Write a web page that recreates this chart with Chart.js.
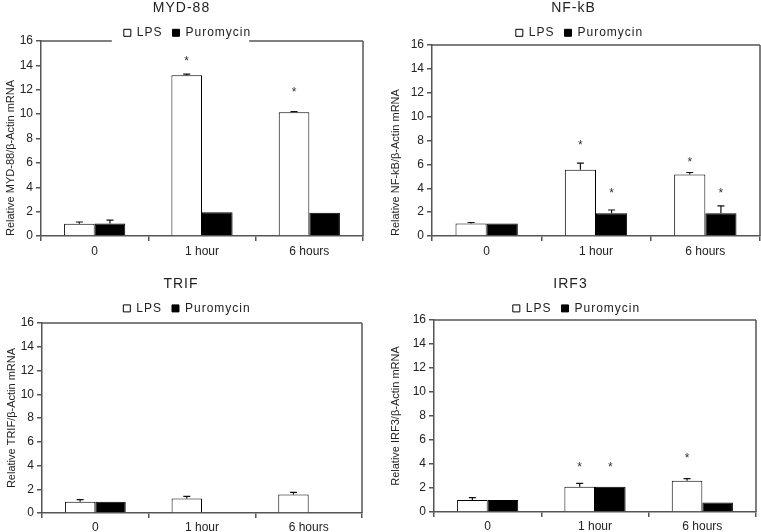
<!DOCTYPE html>
<html><head><meta charset="utf-8">
<script src="https://cdn.jsdelivr.net/npm/chart.js@4.4.1/dist/chart.umd.min.js"></script>
<style>
html,body{margin:0;padding:0;background:#fff;}
#wrap{position:relative;width:761px;height:532px;overflow:hidden;background:#fff;}
canvas{position:absolute;}
</style></head><body>
<div id="wrap">
<canvas id="c1" width="380" height="266" style="left:0;top:0"></canvas>
<canvas id="c2" width="381" height="266" style="left:380px;top:0"></canvas>
<canvas id="c3" width="380" height="266" style="left:0;top:266px"></canvas>
<canvas id="c4" width="381" height="266" style="left:380px;top:266px"></canvas>
</div>
<script>
// ---- data ----
const categories = ['0', '1 hour', '6 hours'];
const seriesNames = ['LPS', 'Puromycin'];
const yMin = 0, yMax = 16, yStep = 2;

const myd88Lps = [1.0, 13.2, 10.15];
const myd88LpsErr = [0.15, 0.08, 0.06];
const myd88Puro = [1.03, 1.95, 1.9];
const myd88PuroErr = [0.27, 0, 0];
const myd88LpsStar = [null, 14.6, 12.0];
const myd88PuroStar = [null, null, null];

const nfkbLps = [1.05, 5.55, 5.15];
const nfkbLpsErr = [0.08, 0.55, 0.17];
const nfkbPuro = [1.05, 1.9, 1.9];
const nfkbPuroErr = [0, 0.28, 0.62];
const nfkbLpsStar = [null, 7.85, 6.45];
const nfkbPuroStar = [null, 3.8, 3.8];

const trifLps = [0.95, 1.23, 1.56];
const trifLpsErr = [0.17, 0.17, 0.17];
const trifPuro = [0.95, null, null];
const trifPuroErr = [0, 0, 0];
const trifLpsStar = [null, null, null];
const trifPuroStar = [null, null, null];

const irf3Lps = [1.0, 2.1, 2.6];
const irf3LpsErr = [0.19, 0.28, 0.18];
const irf3Puro = [1.0, 2.1, 0.8];
const irf3PuroErr = [0, 0, 0];
const irf3LpsStar = [null, 3.97, 4.69];
const irf3PuroStar = [null, 3.97, null];

const titles = ['MYD-88', 'NF-kB', 'TRIF', 'IRF3'];
const yTitles = ['Relative MYD-88/\u03B2-Actin mRNA', 'Relative NF-kB/\u03B2-Actin mRNA',
                 'Relative TRIF/\u03B2-Actin mRNA', 'Relative IRF3/\u03B2-Actin mRNA'];

// ---- styling ----
const FONT = "'Liberation Sans', Arial, Helvetica, sans-serif";
Chart.defaults.font.family = FONT;
Chart.defaults.color = '#333';
const AXIS = '#555';

const errorStarPlugin = {
  id: 'errorStars',
  afterDatasetsDraw(chart) {
    const ctx = chart.ctx, y = chart.scales.y;
    chart.data.datasets.forEach((ds, i) => {
      const meta = chart.getDatasetMeta(i);
      meta.data.forEach((bar, j) => {
        const v = ds.data[j];
        if (v == null) return;
        const e = ds.errors ? ds.errors[j] : 0;
        if (e) {
          const yv = y.getPixelForValue(v), yt = y.getPixelForValue(v + e);
          ctx.save();
          ctx.strokeStyle = '#111'; ctx.lineWidth = 1.2;
          ctx.beginPath();
          ctx.moveTo(bar.x, yv); ctx.lineTo(bar.x, yt);
          ctx.moveTo(bar.x - 3.5, yt); ctx.lineTo(bar.x + 3.5, yt);
          ctx.stroke(); ctx.restore();
        }
        const s = ds.stars ? ds.stars[j] : null;
        if (s != null) {
          ctx.save();
          ctx.fillStyle = '#333';
          ctx.font = '12px ' + FONT;
          ctx.textAlign = 'center'; ctx.textBaseline = 'alphabetic';
          ctx.fillText('*', bar.x, y.getPixelForValue(s) + 6.5);
          ctx.restore();
        }
      });
    });
  }
};

const framePlugin = {
  id: 'frame',
  afterDraw(chart, args, opts) {
    const {left, right, top, bottom} = chart.chartArea;
    const ctx = chart.ctx;
    ctx.save();
    ctx.strokeStyle = AXIS; ctx.lineWidth = 1.5;
    ctx.beginPath();
    if (opts.gap && chart.legend && chart.legend.legendHitBoxes.length) {
      const hb = chart.legend.legendHitBoxes;
      const gl = Math.min(...hb.map(h => h.left)) - 12;
      const gr = Math.max(...hb.map(h => h.left + h.width)) + 10;
      ctx.moveTo(left, top); ctx.lineTo(gl, top);
      ctx.moveTo(gr, top); ctx.lineTo(right, top);
    } else {
      ctx.moveTo(left, top); ctx.lineTo(right, top);
    }
    ctx.moveTo(right, top); ctx.lineTo(right, bottom);
    ctx.stroke();
    ctx.restore();
  }
};

function makeChart(id, p) {
  const chart = new Chart(document.getElementById(id), {
    type: 'bar',
    data: {
      labels: categories,
      datasets: [
        { label: seriesNames[0], data: p.lps, errors: p.lpsErr, stars: p.lpsStar,
          backgroundColor: '#ffffff', borderColor: '#000', borderWidth: 1 },
        { label: seriesNames[1], data: p.puro, errors: p.puroErr, stars: p.puroStar,
          backgroundColor: '#000000', borderColor: '#000', borderWidth: 1 }
      ]
    },
    options: {
      responsive: false, animation: false, devicePixelRatio: 1,
      categoryPercentage: 0.57, barPercentage: 1.0,
      layout: { padding: { left: p.padL, right: p.padR, top: 0, bottom: 0 } },
      plugins: {
        tooltip: { enabled: false },
        title: { display: true, text: p.title, color: '#222',
                 font: { size: 14, family: FONT, weight: 'normal' },
                 padding: { top: p.titleTop, bottom: 0 } },
        legend: { display: true, position: 'top', maxHeight: p.legendH,
                  labels: { boxWidth: 7, boxHeight: 7, padding: 10, color: '#222',
                            font: { size: 12, family: FONT } } },
        frame: { gap: p.gap }
      },
      scales: {
        x: {
          afterFit: s => { s.height = p.xH; },
          grid: { display: true, drawOnChartArea: false, offset: true, tickLength: 5,
                  color: AXIS, lineWidth: 1.5 },
          border: { display: true, color: AXIS, width: 1.5 },
          ticks: { padding: p.xPad, color: '#222', font: { size: 12, family: FONT } }
        },
        y: {
          min: yMin, max: yMax,
          afterFit: s => { s.width = p.yW; },
          grid: { display: true, drawOnChartArea: false, tickLength: 5, color: AXIS, lineWidth: 1.5 },
          border: { display: true, color: AXIS, width: 1.5 },
          ticks: { stepSize: yStep, padding: 3, color: '#222', font: { size: 12, family: FONT } },
          title: { display: true, text: p.yTitle, align: p.yAlign, color: '#222',
                   padding: p.yTitlePad, font: { size: 11, family: FONT } }
        }
      }
    },
    plugins: [errorStarPlugin, framePlugin]
  });
  // letter spacing for title and legend text, as in the reference
  const spaced = (box, sp) => {
    if (!box) return;
    const d = box.draw;
    box.draw = function (...a) {
      const c = this.ctx; const prev = c.letterSpacing;
      c.letterSpacing = sp; d.apply(this, a); c.letterSpacing = prev || '0px';
    };
  };
  spaced(chart.titleBlock, '1px');
  spaced(chart.legend, '1px');
  chart.draw();
  return chart;
}

makeChart('c1', { title: titles[0], yTitle: yTitles[0], lps: myd88Lps, lpsErr: myd88LpsErr, lpsStar: myd88LpsStar,
  puro: myd88Puro, puroErr: myd88PuroErr, puroStar: myd88PuroStar,
  padL: 0, padR: 17, yW: 41, xH: 30, xPad: 3, titleTop: 0, legendH: 24.2, gap: true, yAlign: 'start', yTitlePad: 4 });
makeChart('c2', { title: titles[1], yTitle: yTitles[1], lps: nfkbLps, lpsErr: nfkbLpsErr, lpsStar: nfkbLpsStar,
  puro: nfkbPuro, puroErr: nfkbPuroErr, puroStar: nfkbPuroStar,
  padL: 7, padR: 1, yW: 45, xH: 30, xPad: 3, titleTop: 0, legendH: 28.2, gap: false, yAlign: 'start', yTitlePad: 2 });
makeChart('c3', { title: titles[2], yTitle: yTitles[2], lps: trifLps, lpsErr: trifLpsErr, lpsStar: trifLpsStar,
  puro: trifPuro, puroErr: trifPuroErr, puroStar: trifPuroStar,
  padL: 0, padR: 18, yW: 42, xH: 19, xPad: 2, titleTop: 9.6, legendH: 30.6, gap: false, yAlign: 'center', yTitlePad: 5 });
makeChart('c4', { title: titles[3], yTitle: yTitles[3], lps: irf3Lps, lpsErr: irf3LpsErr, lpsStar: irf3LpsStar,
  puro: irf3Puro, puroErr: irf3PuroErr, puroStar: irf3PuroStar,
  padL: 5, padR: 5, yW: 49, xH: 20, xPad: 2, titleTop: 9.6, legendH: 27.6, gap: false, yAlign: 'center', yTitlePad: 4 });
</script>
</body></html>
